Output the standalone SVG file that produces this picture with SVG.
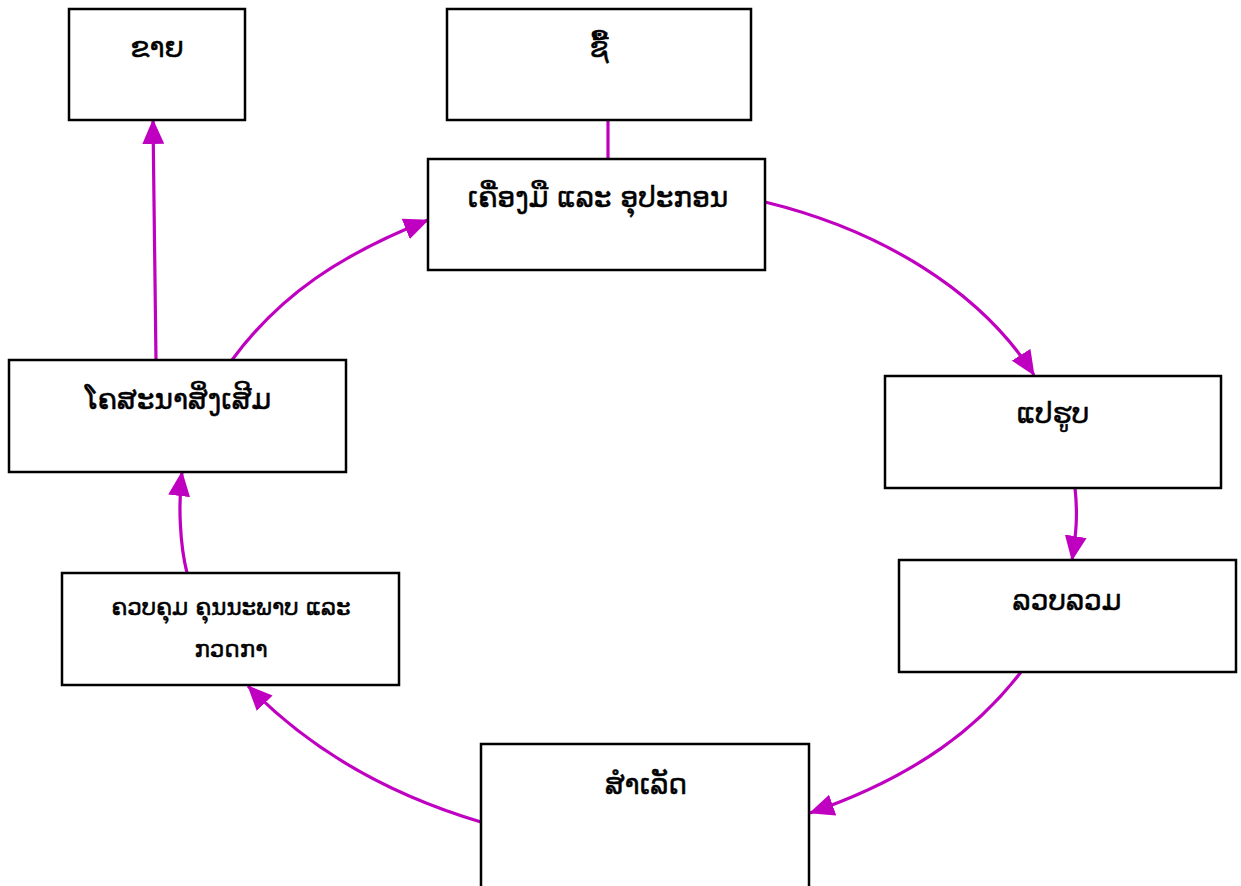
<svg xmlns="http://www.w3.org/2000/svg" width="1241" height="886" viewBox="0 0 1241 886">
<defs>
<style>
.box{fill:#fff;stroke:#000;stroke-width:2.5}
.t{font-family:"DejaVu Sans",sans-serif;font-size:28px;fill:#000;text-anchor:middle;stroke:#000;stroke-width:0.5}
.ts{font-size:23px}
.c{fill:none;stroke:#c000c0;stroke-width:3.2}
</style>
<marker id="ah" markerWidth="25" markerHeight="22" refX="24" refY="11" orient="auto" markerUnits="userSpaceOnUse">
<path d="M0,0 L25,11 L0,22 Z" fill="#c000c0"/>
</marker>
</defs>
<rect width="1241" height="886" fill="#fff"/>
<g id="connectors">
<path class="c" d="M608,121 L608,159"/>
<path class="c" d="M765,202 C880,230 980,290 1034,375" marker-end="url(#ah)"/>
<path class="c" d="M1075,488 C1078,515 1076,535 1072,560" marker-end="url(#ah)"/>
<path class="c" d="M1021,672 C980,725 920,775 810,813" marker-end="url(#ah)"/>
<path class="c" d="M481,822 C390,795 310,750 248,686" marker-end="url(#ah)"/>
<path class="c" d="M187,573 C180,545 178,505 182,472" marker-end="url(#ah)"/>
<path class="c" d="M156,360 L153,120" marker-end="url(#ah)"/>
<path class="c" d="M232,360 C280,295 340,255 428,220" marker-end="url(#ah)"/>
</g>
<g id="n-sell"><rect class="box" x="69" y="9" width="176" height="111"/><text class="t" x="157" y="57">ຂາຍ</text></g>
<g id="n-buy"><rect class="box" x="447" y="9" width="304" height="111"/><text class="t" x="599" y="57">ຊື້</text></g>
<g id="n-tools"><rect class="box" x="428" y="159" width="337" height="111"/><text class="t" x="598" y="207">ເຄື່ອງມື ແລະ ອຸປະກອນ</text></g>
<g id="n-promo"><rect class="box" x="9" y="360" width="337" height="112"/><text class="t" x="178" y="409">ໂຄສະນາສິ່ງເສີມ</text></g>
<g id="n-process"><rect class="box" x="885" y="376" width="336" height="112"/><text class="t" x="1053" y="423">ແປຮູບ</text></g>
<g id="n-qc"><rect class="box" x="62" y="573" width="337" height="112"/><text class="t ts" x="231" y="615">ຄວບຄຸມ ຄຸນນະພາບ ແລະ</text><text class="t ts" x="231" y="657">ກວດກາ</text></g>
<g id="n-collect"><rect class="box" x="899" y="560" width="337" height="112"/><text class="t" x="1067" y="610">ລວບລວມ</text></g>
<g id="n-done"><rect class="box" x="481" y="744" width="328" height="150"/><text class="t" x="646" y="794">ສຳເລັດ</text></g>
</svg>
